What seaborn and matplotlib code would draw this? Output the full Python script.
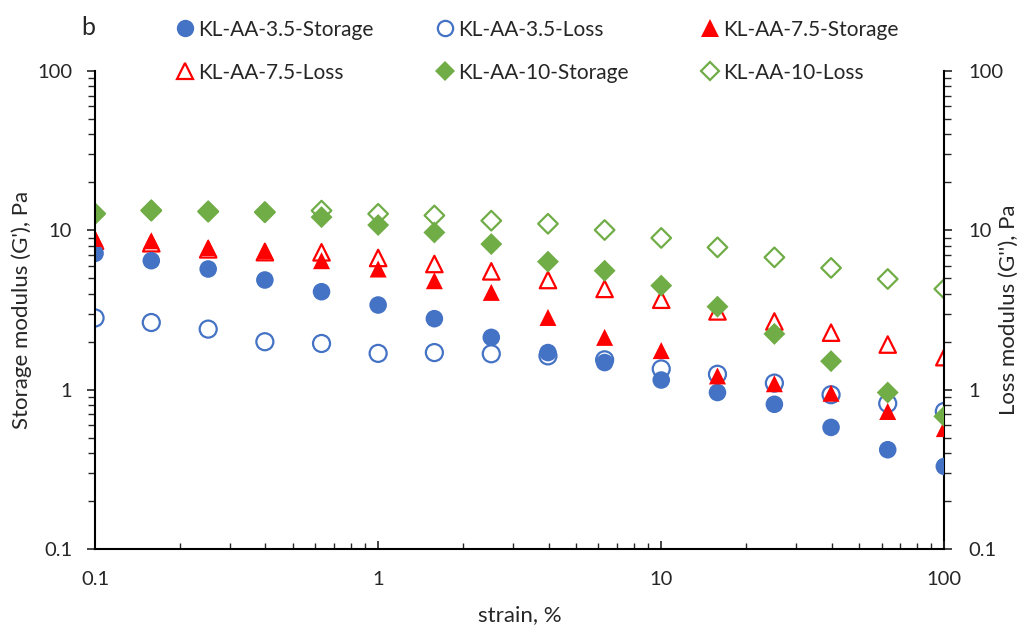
import numpy as np
import pandas as pd
import matplotlib
matplotlib.use("Agg")
import matplotlib.pyplot as plt
from matplotlib.ticker import LogLocator, FuncFormatter, NullFormatter
from matplotlib.lines import Line2D
import seaborn as sns

# Strain sweep (%)
strain = [0.1, 0.158, 0.251, 0.398, 0.631, 1.0, 1.58, 2.51, 3.98, 6.31,
          10.0, 15.8, 25.1, 39.8, 63.1, 100.0]

# Storage modulus G' (Pa)
g_storage_35 = [7.17, 6.45, 5.72, 4.88, 4.12, 3.40, 2.79, 2.13, 1.71, 1.48,
                1.15, 0.96, 0.81, 0.58, 0.42, 0.33]
g_storage_75 = [8.9, 8.6, 7.8, 7.45, 6.45, 5.72, 4.83, 4.08, 2.84, 2.13,
                1.76, 1.22, 1.09, 0.95, 0.73, 0.57]
g_storage_10 = [12.8, 13.4, 13.2, 13.0, 12.1, 10.8, 9.7, 8.2, 6.36, 5.58,
                4.50, 3.32, 2.24, 1.51, 0.96, 0.68]

# Loss modulus G'' (Pa)
g_loss_35 = [2.82, 2.64, 2.40, 2.00, 1.95, 1.69, 1.71, 1.68, 1.63, 1.54,
             1.35, 1.25, 1.10, 0.93, 0.82, 0.73]
g_loss_75 = [8.6, 8.3, 7.6, 7.3, 7.28, 6.71, 6.15, 5.53, 4.88, 4.29,
             3.67, 3.10, 2.68, 2.28, 1.92, 1.60]
g_loss_10 = [12.7, 13.3, 13.1, 13.0, 13.3, 12.7, 12.4, 11.5, 11.0, 10.05,
             8.96, 7.82, 6.77, 5.81, 4.95, 4.29]

BLUE = "#4472C4"
RED = "#FF0000"
GREEN = "#70AD47"

sns.set_style("white")
plt.rcParams["font.family"] = ["Lato", "DejaVu Sans"]
TICK_FS = 14.5
LABEL_FS = 16
LEGEND_FS = 15

fig = plt.figure(figsize=(10.22, 6.34), dpi=100)
ax = fig.add_axes([0.093, 0.134, 0.831, 0.754])
ax2 = ax.twinx()

# primary axis (storage) drawn above the secondary axis (loss)
ax.set_zorder(ax2.get_zorder() + 1)
ax.patch.set_visible(False)

storage = [("KL-AA-3.5-Storage", g_storage_35, BLUE, "o", 160),
           ("KL-AA-7.5-Storage", g_storage_75, RED, "^", 150),
           ("KL-AA-10-Storage", g_storage_10, GREEN, "D", 125)]
loss = [("KL-AA-3.5-Loss", g_loss_35, BLUE, "o", 150),
        ("KL-AA-7.5-Loss", g_loss_75, RED, "^", 140),
        ("KL-AA-10-Loss", g_loss_10, GREEN, "D", 100)]

for name, vals, col, mk, sz in loss:
    df = pd.DataFrame({"strain": strain, "G": vals})
    sns.scatterplot(data=df, x="strain", y="G", ax=ax2, marker=mk, s=sz,
                    facecolors="none", edgecolor=col, linewidth=1.6,
                    legend=False)

for name, vals, col, mk, sz in storage:
    df = pd.DataFrame({"strain": strain, "G": vals})
    sns.scatterplot(data=df, x="strain", y="G", ax=ax, marker=mk, s=sz,
                    color=col, edgecolor="none", linewidth=0, legend=False)

fmt = FuncFormatter(lambda v, p: f"{v:g}")
for a in (ax, ax2):
    a.set_xscale("log")
    a.set_yscale("log")
    a.set_xlim(0.1, 100)
    a.set_ylim(0.1, 100)
    a.yaxis.set_major_locator(LogLocator(base=10))
    a.yaxis.set_minor_locator(LogLocator(base=10, subs=np.arange(2, 10)))
    a.yaxis.set_major_formatter(fmt)
    a.yaxis.set_minor_formatter(NullFormatter())
    a.spines["top"].set_visible(False)
    for sp in ("left", "right", "bottom"):
        a.spines[sp].set_color("black")
        a.spines[sp].set_linewidth(1.5)

ax.spines["right"].set_visible(False)
ax2.spines["left"].set_visible(False)
ax2.spines["bottom"].set_visible(False)

ax.xaxis.set_major_locator(LogLocator(base=10))
ax.xaxis.set_minor_locator(LogLocator(base=10, subs=np.arange(2, 10)))
ax.xaxis.set_major_formatter(fmt)
ax.xaxis.set_minor_formatter(NullFormatter())

ax.tick_params(axis="x", which="major", direction="in", length=5.5, width=1.2,
               labelsize=TICK_FS, pad=16, bottom=True)
ax.tick_params(axis="x", which="minor", direction="in", length=4.5, width=1.0,
               bottom=True)
ax.tick_params(axis="y", which="major", direction="out", length=5.5, width=1.2,
               labelsize=TICK_FS, pad=11, left=True)
ax.tick_params(axis="y", which="minor", direction="out", length=5, width=1.0,
               left=True)
ax2.tick_params(axis="y", which="major", direction="out", length=5.5, width=1.2,
                labelsize=TICK_FS, pad=11.5, right=True)
ax2.tick_params(axis="y", which="minor", direction="out", length=5, width=1.0,
                right=True)

ax.set_xlabel("strain, %", fontsize=LABEL_FS)
ax.set_ylabel("Storage modulus (G'), Pa", fontsize=LABEL_FS)
ax2.set_ylabel("Loss modulus (G''), Pa", fontsize=LABEL_FS)
ax.xaxis.set_label_coords(0.5, -0.118)
ax.yaxis.set_label_coords(-0.074, 0.5)
ax2.yaxis.set_label_coords(1.064, 0.5)
ax.grid(False)
ax2.grid(False)

# legend: three fixed-position columns of two entries each
def handle(col, mk, filled, ms):
    return Line2D([], [], linestyle="none", marker=mk, markersize=ms,
                  markerfacecolor=col if filled else "none",
                  markeredgecolor=col, markeredgewidth=0 if filled else 1.6)

columns = [
    (0.1732, [(handle(BLUE, "o", True, 12.5), "KL-AA-3.5-Storage"),
              (handle(RED, "^", False, 11.5), "KL-AA-7.5-Loss")]),
    (0.4276, [(handle(BLUE, "o", False, 11), "KL-AA-3.5-Loss"),
              (handle(GREEN, "D", True, 10.5), "KL-AA-10-Storage")]),
    (0.6869, [(handle(RED, "^", True, 12.5), "KL-AA-7.5-Storage"),
              (handle(GREEN, "D", False, 9), "KL-AA-10-Loss")]),
]
for x0, items in columns:
    fig.legend([h for h, _ in items], [t for _, t in items],
               loc="upper left", bbox_to_anchor=(x0, 0.969),
               frameon=False, fontsize=LEGEND_FS, handlelength=0.8,
               handletextpad=0.2, labelspacing=1.1, borderpad=0,
               borderaxespad=0)

fig.text(0.086, 0.957, "b", fontsize=18, ha="center", va="center")

fig.savefig("out.png", dpi=100)
